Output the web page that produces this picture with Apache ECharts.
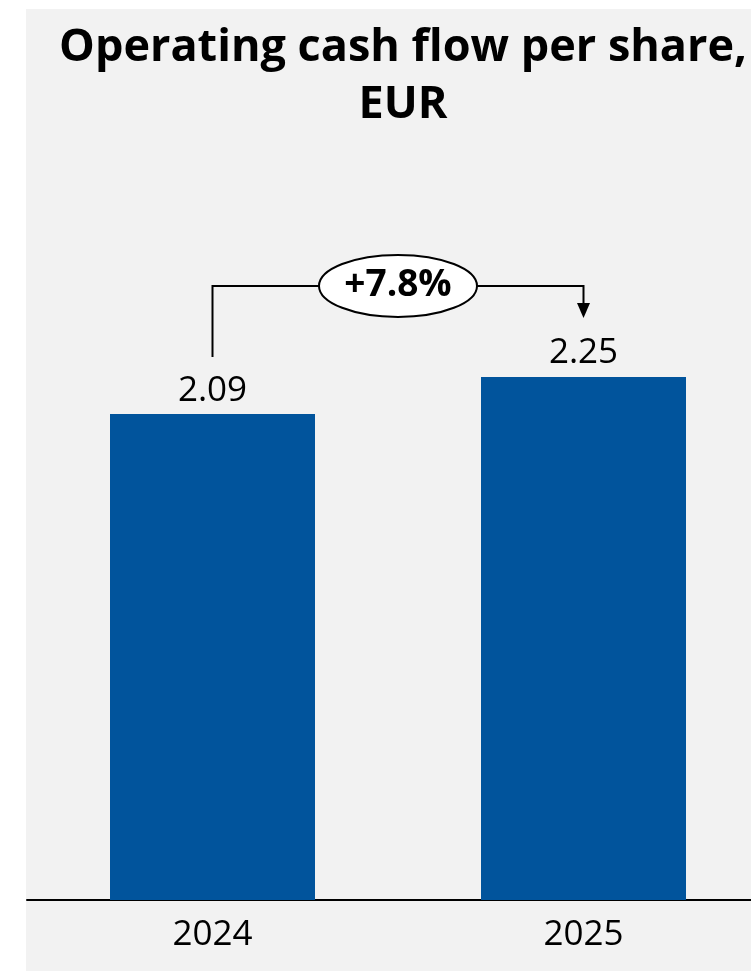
<!DOCTYPE html>
<html>
<head>
<meta charset="utf-8">
<script src="https://cdn.jsdelivr.net/npm/echarts@6/dist/echarts.min.js"></script>
<style>
html,body{margin:0;padding:0;background:#fff;}
#chart{width:751px;height:971px;}
</style>
</head>
<body>
<div id="chart"></div>
<script>
const categories = ['2024', '2025'];
const values = [2.09, 2.25];
const changeLabel = '+7.8%';
const titleText = 'Operating cash flow per share,\nEUR';

const FONT = '"Open Sans", "Noto Sans", sans-serif';
const chart = echarts.init(document.getElementById('chart'));

chart.setOption({
  backgroundColor: '#ffffff',
  animation: false,
  title: {
    text: titleText,
    left: 398,
    top: 15,
    textAlign: 'center',
    textStyle: { fontFamily: FONT, fontWeight: 'bold', fontSize: 45, lineHeight: 57, color: '#000' }
  },
  grid: { left: 27, width: 742, top: 202.5, bottom: 71, containLabel: false, outerBoundsMode: 'none' },
  xAxis: {
    type: 'category',
    data: categories,
    axisLine: { lineStyle: { color: '#000', width: 2 } },
    axisTick: { show: false },
    axisLabel: { fontFamily: FONT, fontSize: 35, color: '#000', margin: 18 }
  },
  yAxis: { type: 'value', min: 0, max: 3, show: false, splitLine: { show: false } },
  series: [{
    type: 'bar',
    data: values,
    barWidth: 205,
    itemStyle: { color: '#01549c' },
    label: {
      show: true, position: 'top', distance: 6,
      fontFamily: FONT, fontSize: 35, color: '#000',
      formatter: p => p.value.toFixed(2)
    }
  }]
});

const p1 = chart.convertToPixel({ seriesIndex: 0 }, [0, values[0]]);
const p2 = chart.convertToPixel({ seriesIndex: 0 }, [1, values[1]]);
const yH = p2[1] - 91;
const yStart = p1[1] - 57;
const yTip = p2[1] - 59;
const cx = (p1[0] + p2[0]) / 2;

chart.setOption({
  graphic: [
    { type: 'rect', z: -10, silent: true, shape: { x: 26, y: 9, width: 760, height: 1000 }, style: { fill: '#f2f2f2' } },
    { type: 'polyline', z: 10, shape: { points: [[p1[0], yStart], [p1[0], yH], [p2[0], yH], [p2[0], yTip - 14]] }, style: { stroke: '#000', lineWidth: 2, fill: null } },
    { type: 'polygon', z: 10, shape: { points: [[p2[0] - 6.5, yTip - 15], [p2[0] + 6.5, yTip - 15], [p2[0], yTip]] }, style: { fill: '#000' } },
    { type: 'ellipse', z: 11, shape: { cx: cx, cy: yH, rx: 79, ry: 31 }, style: { fill: '#fff', stroke: '#000', lineWidth: 2 } },
    { type: 'text', z: 12, x: cx, y: yH, style: { text: changeLabel, fontFamily: FONT, fontWeight: 'bold', fontSize: 37, fill: '#000', align: 'center', verticalAlign: 'middle' } }
  ]
});
</script>
</body>
</html>
